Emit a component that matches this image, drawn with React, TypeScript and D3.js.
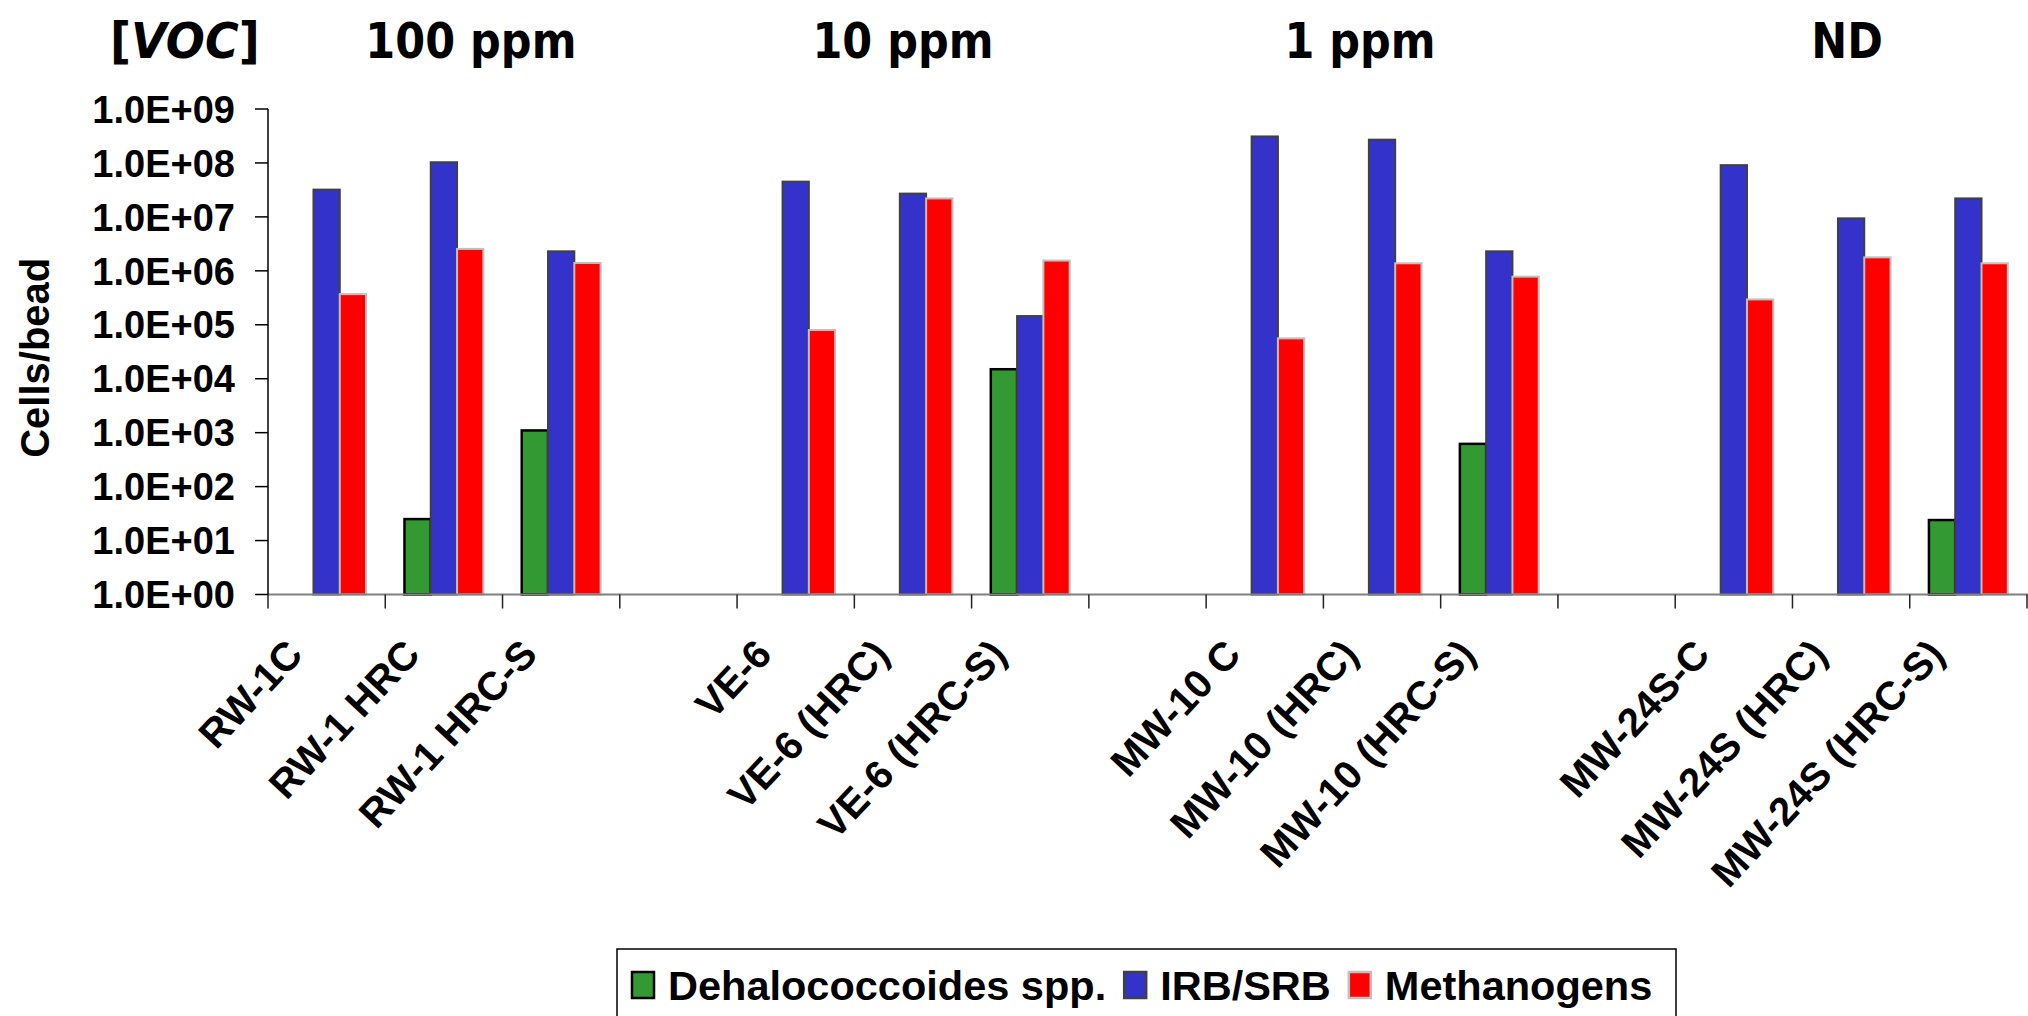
import React, { useEffect, useRef } from "react";
import * as d3 from "d3";

// sample names, blanks separate the concentration groups
const categories = [
  "RW-1C", "RW-1 HRC", "RW-1 HRC-S", "",
  "VE-6", "VE-6 (HRC)", "VE-6 (HRC-S)", "",
  "MW-10 C", "MW-10 (HRC)", "MW-10 (HRC-S)", "",
  "MW-24S-C", "MW-24S (HRC)", "MW-24S (HRC-S)",
];

// cells/bead, null = no bar
const dehalococcoides = [null, 25, 1100, null, null, null, 1.5e4, null, null, null, 620, null, null, null, 24];
const irbSrb = [3.2e7, 1.03e8, 2.3e6, null, 4.5e7, 2.7e7, 1.45e5, null, 3.1e8, 2.7e8, 2.3e6, null, 9.1e7, 9.4e6, 2.2e7];
const methanogens = [3.7e5, 2.55e6, 1.4e6, null, 8e4, 2.2e7, 1.55e6, null, 5.6e4, 1.38e6, 7.8e5, null, 2.95e5, 1.78e6, 1.38e6];

const seriesNames = ["Dehalococcoides spp.", "IRB/SRB", "Methanogens"];

const yTickValues = [1, 1e1, 1e2, 1e3, 1e4, 1e5, 1e6, 1e7, 1e8, 1e9];
const yTickLabels = [
  "1.0E+00", "1.0E+01", "1.0E+02", "1.0E+03", "1.0E+04",
  "1.0E+05", "1.0E+06", "1.0E+07", "1.0E+08", "1.0E+09",
];

const groupTitles = ["100 ppm", "10 ppm", "1 ppm", "ND"];
const groupFirst = [0, 4, 8, 12];

const W = 2028;
const H = 1016;
const ARIAL = "'Liberation Sans', Arial, sans-serif";
const TITLE_FONT = "'DejaVu Sans', sans-serif";

const fills = ["#339933", "#3333cc", "#ff0000"];
const strokes = ["#000000", "#404040", "#c0c0c0"];

const App = () => {
  const svgRef = useRef(null);

  useEffect(() => {
    document.body.style.margin = "0";
    const svg = d3.select(svgRef.current);
    svg.selectAll("*").remove();

    const left = 268;
    const right = 2027;
    const top = 109;
    const base = 594.5;

    const x = d3
      .scaleBand()
      .domain(categories.map((_, i) => String(i)))
      .range([left, right]);
    const inner = d3
      .scaleBand()
      .domain(seriesNames)
      .range([0, x.bandwidth()])
      .paddingOuter(0.73);
    const y = d3.scaleLog().domain([1, 1e9]).range([base, top]);

    const series = [dehalococcoides, irbSrb, methanogens];

    // bars
    series.forEach((values, s) => {
      svg
        .append("g")
        .selectAll("rect")
        .data(values.map((v, i) => ({ v, i })).filter((d) => d.v != null))
        .enter()
        .append("rect")
        .attr("x", (d) => x(String(d.i)) + inner(seriesNames[s]))
        .attr("y", (d) => y(d.v))
        .attr("width", inner.bandwidth())
        .attr("height", (d) => base - y(d.v))
        .attr("fill", fills[s])
        .attr("stroke", strokes[s])
        .attr("stroke-width", s === 0 ? 2.5 : 2);
    });

    // x axis
    svg
      .append("line")
      .attr("x1", left)
      .attr("x2", right + 1)
      .attr("y1", base)
      .attr("y2", base)
      .attr("stroke", "#808080")
      .attr("stroke-width", 2);
    const boundaries = d3.range(categories.length + 1).map((i) => left + i * x.step());
    svg
      .append("g")
      .selectAll("line")
      .data(boundaries)
      .enter()
      .append("line")
      .attr("x1", (d) => d)
      .attr("x2", (d) => d)
      .attr("y1", base)
      .attr("y2", base + 14)
      .attr("stroke", "#222")
      .attr("stroke-width", 1.5);

    // y axis
    svg
      .append("line")
      .attr("x1", left)
      .attr("x2", left)
      .attr("y1", top)
      .attr("y2", base)
      .attr("stroke", "#000")
      .attr("stroke-width", 1.5);
    const yt = svg.append("g");
    yt.selectAll("line")
      .data(yTickValues)
      .enter()
      .append("line")
      .attr("x1", left - 13)
      .attr("x2", left)
      .attr("y1", (d) => y(d))
      .attr("y2", (d) => y(d))
      .attr("stroke", "#000")
      .attr("stroke-width", 1.5);
    yt.selectAll("text")
      .data(yTickValues)
      .enter()
      .append("text")
      .attr("x", left - 33)
      .attr("y", (d) => y(d))
      .attr("dy", "0.36em")
      .attr("text-anchor", "end")
      .attr("font-family", ARIAL)
      .attr("font-weight", "bold")
      .attr("font-size", 38)
      .text((d, i) => yTickLabels[i]);

    svg
      .append("text")
      .attr("transform", `translate(49, ${(top + base) / 2 + 6}) rotate(-90)`)
      .attr("text-anchor", "middle")
      .attr("font-family", ARIAL)
      .attr("font-weight", "bold")
      .attr("font-size", 40)
      .text("Cells/bead");

    // category labels
    svg
      .append("g")
      .selectAll("text")
      .data(categories)
      .enter()
      .append("text")
      .attr(
        "transform",
        (d, i) => `translate(${x(String(i)) + x.bandwidth() / 2 - 22}, 656) rotate(-47)`
      )
      .attr("text-anchor", "end")
      .attr("font-family", ARIAL)
      .attr("font-weight", "bold")
      .attr("font-size", 40)
      .text((d) => d);

    // concentration headers
    const title = svg
      .append("text")
      .attr("transform", "translate(110, 58) scale(0.92, 1)")
      .attr("font-family", TITLE_FONT)
      .attr("font-weight", "bold")
      .attr("font-size", 50);
    title.append("tspan").text("[");
    title.append("tspan").attr("font-style", "italic").text("VOC");
    title.append("tspan").text("]");

    const nudge = [27, -10, -22, -4];
    svg
      .append("g")
      .selectAll("text")
      .data(groupTitles)
      .enter()
      .append("text")
      .attr(
        "transform",
        (d, i) =>
          `translate(${x(String(groupFirst[i])) + 1.5 * x.step() + nudge[i]}, 58) scale(0.86, 1)`
      )
      .attr("text-anchor", "middle")
      .attr("font-family", TITLE_FONT)
      .attr("font-weight", "bold")
      .attr("font-size", 50)
      .text((d) => d);

    // legend
    const legend = svg.append("g");
    legend
      .append("rect")
      .attr("x", 617)
      .attr("y", 949)
      .attr("width", 1059)
      .attr("height", 90)
      .attr("fill", "#fff")
      .attr("stroke", "#000")
      .attr("stroke-width", 1.5);
    let lx = 632;
    seriesNames.forEach((name, s) => {
      legend
        .append("rect")
        .attr("x", lx)
        .attr("y", 972)
        .attr("width", 22)
        .attr("height", 26)
        .attr("fill", fills[s])
        .attr("stroke", strokes[s])
        .attr("stroke-width", 2.5);
      const t = legend
        .append("text")
        .attr("x", lx + 36)
        .attr("y", 1000)
        .attr("font-family", ARIAL)
        .attr("font-weight", "bold")
        .attr("font-size", 41.5)
        .text(name);
      const node = t.node();
      const w = node ? node.getComputedTextLength() : 300;
      lx = lx + 36 + w + 18;
    });
  }, []);

  return <svg ref={svgRef} width={W} height={H} style={{ display: "block", background: "#fff" }} />;
};

export default App;
